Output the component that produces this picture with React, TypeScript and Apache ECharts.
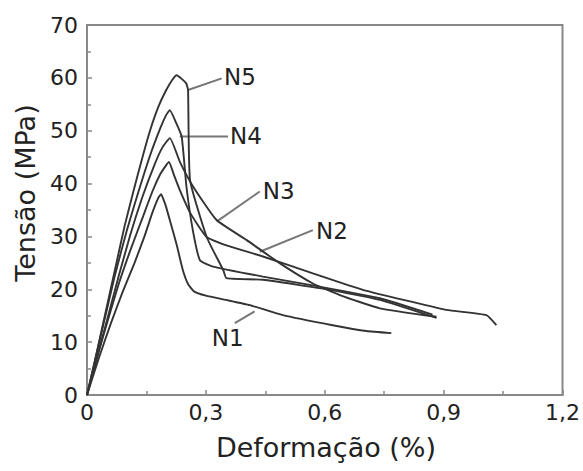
import React, { useEffect, useRef } from "react";
import * as echarts from "echarts";

// Tick labels
const xTickLabels: Record<string, string> = { "0": "0", "0.3": "0,3", "0.6": "0,6", "0.9": "0,9", "1.2": "1,2" };
const yTicks = [0, 10, 20, 30, 40, 50, 60, 70];

// Curves: [deformação (%), tensão (MPa)]
const n1 = [
  [0, 0], [0.03, 7], [0.06, 13.5], [0.09, 19.5], [0.12, 25], [0.145, 30], [0.165, 34.5],
  [0.18, 37.3], [0.187, 38], [0.192, 37.2], [0.2, 35.5], [0.213, 32], [0.226, 28.5],
  [0.242, 23.6], [0.255, 21], [0.27, 19.6], [0.3, 18.8], [0.35, 18.0],
  [0.411, 17.0], [0.494, 15.1], [0.62, 13.2], [0.705, 12.1], [0.768, 11.7],
];
const n2 = [
  [0, 0], [0.025, 7], [0.05, 13.5], [0.08, 21], [0.11, 27.5], [0.14, 33.5], [0.165, 38.5],
  [0.185, 41.8], [0.2, 43.5], [0.207, 44.1], [0.22, 41.5], [0.234, 38.8], [0.26, 34.5],
  [0.302, 29.9], [0.36, 28.1], [0.444, 26.2], [0.57, 23.0], [0.696, 19.9],
  [0.907, 16.1], [1.008, 15.1], [1.033, 13.2],
];
const n3 = [
  [0, 0], [0.025, 7], [0.05, 14], [0.08, 22.5], [0.11, 30.5], [0.14, 37.5], [0.17, 43.5],
  [0.19, 46.8], [0.209, 48.6], [0.235, 44], [0.268, 39.4], [0.327, 33.1], [0.403, 29.3],
  [0.487, 24.9], [0.57, 21.1], [0.638, 18.9], [0.739, 16.4], [0.882, 14.8],
];
const n4 = [
  [0, 0], [0.02, 6.5], [0.045, 14.5], [0.07, 22.5], [0.1, 31], [0.13, 38.5], [0.16, 45.5],
  [0.185, 50.5], [0.2, 53], [0.209, 53.9], [0.225, 51.5], [0.239, 48.9], [0.251, 39.4],
  [0.267, 31.2], [0.285, 25.5], [0.318, 24.3], [0.444, 22.4], [0.587, 20.5], [0.739, 18.3],
  [0.872, 15.2],
];
const n5 = [
  [0, 0], [0.02, 6.5], [0.045, 15], [0.07, 23.5], [0.095, 32], [0.117, 38.5], [0.14, 45],
  [0.159, 50], [0.18, 54.5], [0.2, 57.7], [0.215, 59.6], [0.226, 60.5], [0.25, 59],
  [0.255, 57.7], [0.26, 40.7], [0.302, 29.9], [0.344, 23.6], [0.352, 22.1],
  [0.444, 21.8], [0.613, 19.9], [0.739, 18.0], [0.882, 14.6],
];

const seriesNames = ["N1", "N2", "N3", "N4", "N5"];
const seriesData = [n1, n2, n3, n4, n5];

// Annotations: label text, label centre, leader line start (on curve) and end (near label)
const annNames = ["N5", "N4", "N3", "N2", "N1"];
const annText = [[0.386, 60.2], [0.401, 49.0], [0.484, 38.6], [0.618, 31.0], [0.355, 10.7]];
const annFrom = [[0.255, 57.7], [0.234, 48.9], [0.327, 32.8], [0.436, 27.1], [0.423, 15.8]];
const annTo = [[0.34, 59.9], [0.356, 48.9], [0.436, 38.5], [0.57, 31.2], [0.373, 13.6]];

const FONT = "DejaVu Sans";

export default function App() {
  const ref = useRef<HTMLDivElement>(null);
  useEffect(() => {
    if (!ref.current) return;
    const chart = echarts.init(ref.current, undefined, { renderer: "svg" });
    chart.setOption({
      animation: false,
      backgroundColor: "#fff",
      grid: { left: 87, right: 20, top: 25, bottom: 76, show: true, borderColor: "#888", borderWidth: 2 },
      xAxis: {
        type: "value", min: 0, max: 1.2, interval: 0.3,
        axisLine: { show: true, lineStyle: { color: "#888", width: 2 } },
        axisTick: { show: true, inside: true, length: 5, lineStyle: { color: "#888", width: 1.5 } },
        minorTick: { show: true, splitNumber: 2, length: 4, lineStyle: { color: "#888", width: 1.5 } },
        splitLine: { show: false },
        axisLabel: {
          fontFamily: FONT, fontSize: 22, color: "#222", margin: 6,
          formatter: (v: number) => xTickLabels[String(Math.round(v * 10) / 10)] ?? "",
        },
      },
      yAxis: {
        type: "value", min: 0, max: 70, interval: 10,
        axisLine: { show: true, lineStyle: { color: "#888", width: 2 } },
        axisTick: { show: true, inside: true, length: 5, lineStyle: { color: "#888", width: 1.5 } },
        minorTick: { show: true, splitNumber: 2, length: 4, lineStyle: { color: "#888", width: 1.5 } },
        splitLine: { show: false },
        axisLabel: {
          fontFamily: FONT, fontSize: 22, color: "#222", margin: 9,
          formatter: (v: number) => (yTicks.includes(v) ? String(v) : ""),
        },
      },
      series: seriesData.map((d, i) => ({
        name: seriesNames[i],
        type: "line",
        data: d,
        showSymbol: false,
        symbol: "none",
        smooth: 0.15,
        lineStyle: { color: "#333", width: 1.9 },
      })),
    });

    const px = (p: number[]) => chart.convertToPixel({ gridIndex: 0 }, p) as number[];
    const graphics: any[] = [];
    annNames.forEach((name, i) => {
      const a = px(annFrom[i]);
      const b = px(annTo[i]);
      const t = px(annText[i]);
      graphics.push({
        type: "line",
        shape: { x1: a[0], y1: a[1], x2: b[0], y2: b[1] },
        style: { stroke: "#777", lineWidth: 2 },
      });
      graphics.push({
        type: "text",
        x: t[0], y: t[1],
        style: { text: name, fontFamily: FONT, fontSize: 23, fill: "#222", align: "center", verticalAlign: "middle" },
      });
    });
    graphics.push({
      type: "text",
      x: 326, y: 447,
      style: { text: "Deformação (%)", fontFamily: FONT, fontSize: 27, fill: "#222", align: "center", verticalAlign: "middle" },
    });
    graphics.push({
      type: "text",
      x: 25, y: 193, rotation: Math.PI / 2,
      style: { text: "Tensão (MPa)", fontFamily: FONT, fontSize: 27, fill: "#222", align: "center", verticalAlign: "middle" },
    });
    chart.setOption({ graphic: graphics });

    return () => chart.dispose();
  }, []);
  return <div ref={ref} style={{ width: 583, height: 471, position: "absolute", left: 0, top: 0 }} />;
}
